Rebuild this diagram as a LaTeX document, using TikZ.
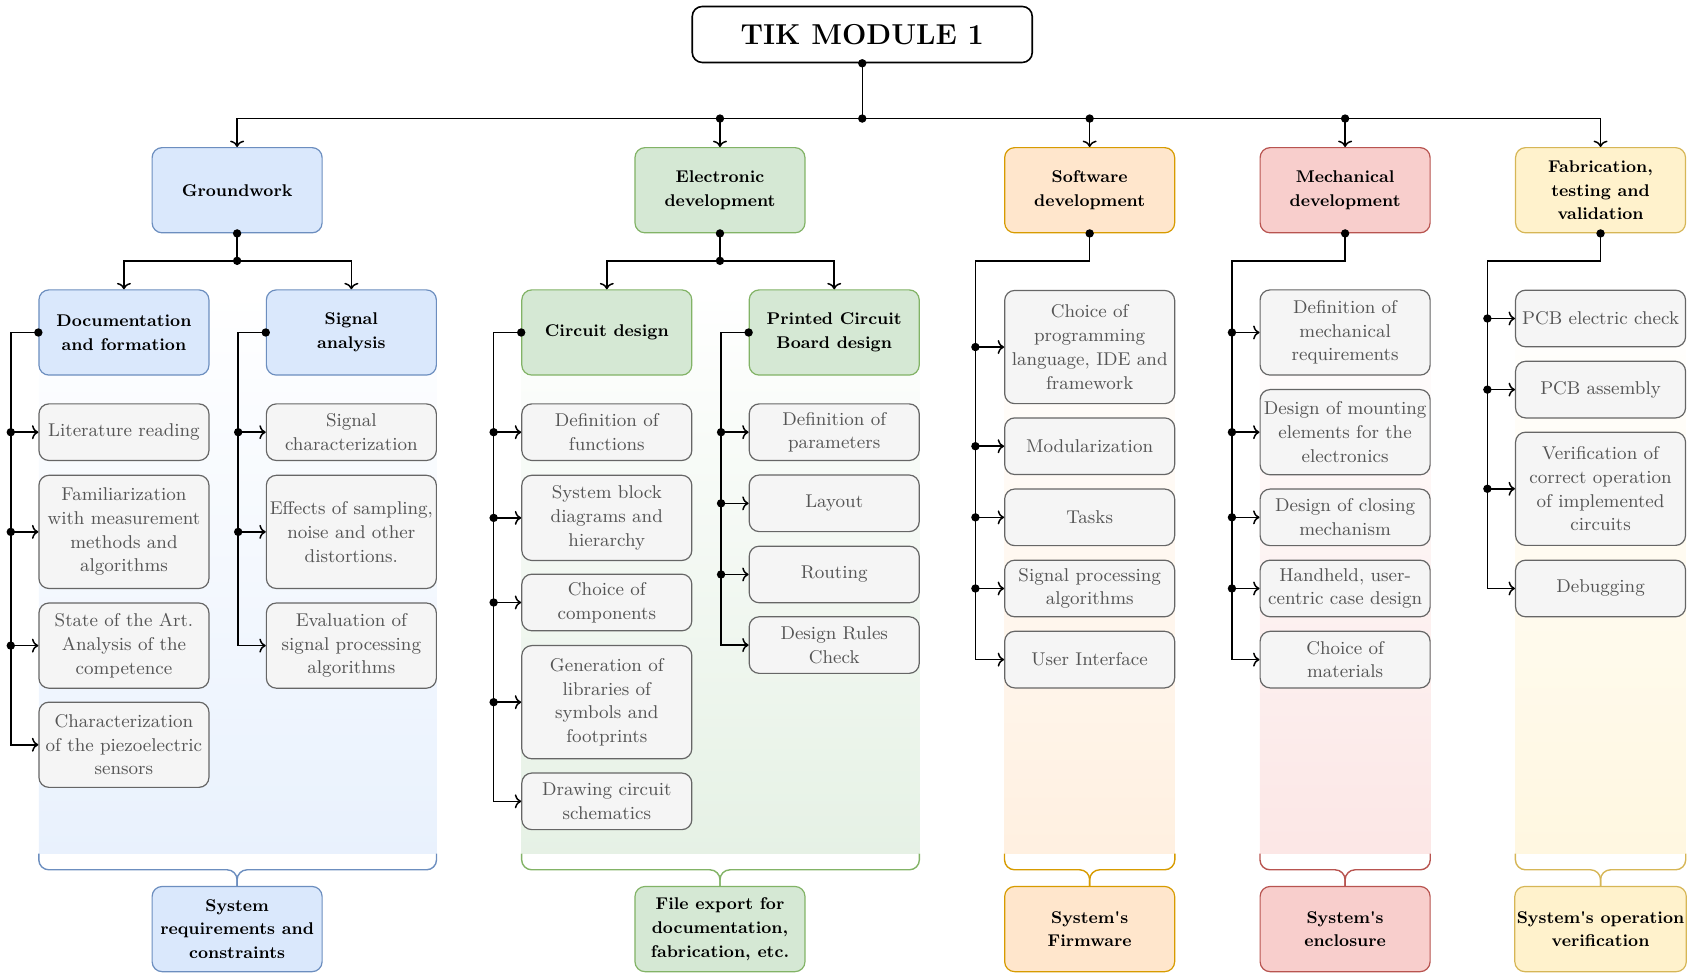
\documentclass[tikz,border=0pt]{standalone}
\usetikzlibrary{arrows.meta,calc}
\definecolor{bluef}{HTML}{DAE8FC}\definecolor{blued}{HTML}{6C8EBF}
\definecolor{greenf}{HTML}{D5E8D4}\definecolor{greend}{HTML}{82B366}
\definecolor{orangef}{HTML}{FFE6CC}\definecolor{oranged}{HTML}{D79B00}
\definecolor{redf}{HTML}{F8CECC}\definecolor{redd}{HTML}{B85450}
\definecolor{yellowf}{HTML}{FFF2CC}\definecolor{yellowd}{HTML}{D6B656}
\definecolor{greyf}{HTML}{F5F5F5}\definecolor{greyd}{HTML}{666666}\definecolor{greyt}{HTML}{555555}
\tikzset{
  lvl/.style={rounded corners=5pt, line width=0.6pt, minimum width=85pt, minimum height=42.6pt, align=center, font=\fontsize{8.5}{11.86}\selectfont\bfseries, inner sep=1pt},
  blue/.style={lvl, draw=blued, fill=bluef},
  green/.style={lvl, draw=greend, fill=greenf},
  orange/.style={lvl, draw=oranged, fill=orangef},
  red/.style={lvl, draw=redd, fill=redf},
  yellow/.style={lvl, draw=yellowd, fill=yellowf},
  item/.style={rounded corners=5pt, draw=greyd, fill=greyf, text=greyt, line width=0.6pt, minimum width=85pt, align=center, inner sep=1pt, font=\fontsize{9.25}{11.86}\selectfont},
  h2/.style={minimum height=28.3pt},
  h3/.style={minimum height=42.6pt},
  h4/.style={minimum height=56.6pt},
  conn/.style={line width=0.75pt},
  arr/.style={conn, -{To[length=3.2pt,width=7pt]}},
  brace/.style={line width=0.7pt, rounded corners=5pt},
}
\newcommand{\jdot}[1]{\fill #1 circle (2.1pt);}
\begin{document}
\begin{tikzpicture}[x=0.5389pt,y=-0.5389pt]
\useasboundingbox (0,0) rectangle (1568,906);
% gradient backgrounds
\shade[top color=white, bottom color=bluef!60!white] (36,269) rectangle (405,792);
\shade[top color=white, bottom color=greenf!60!white] (484,269) rectangle (853,792);
\shade[top color=white, bottom color=orangef!60!white] (932,269) rectangle (1090,792);
\shade[top color=white, bottom color=redf!50!white] (1169,269) rectangle (1327,792);
\shade[top color=white, bottom color=yellowf!60!white] (1406,269) rectangle (1564,792);

% title
\node[draw, rounded corners=5pt, line width=0.8pt, minimum width=170pt, minimum height=28pt, font=\Large\bfseries] (title) at (800,32) {TIK MODULE 1};

% level 1
\node[blue] (gw) at (220,176.5) {Groundwork};
\node[green] (el) at (668,176.5) {Electronic\\development};
\node[orange] (sw) at (1011,176.5) {Software\\development};
\node[red] (me) at (1248,176.5) {Mechanical\\development};
\node[yellow] (fa) at (1485,176.5) {Fabrication,\\testing and\\validation};

% level 2
\node[blue] (doc) at (115,308.5) {Documentation\\and formation};
\node[blue] (sig) at (326,308.5) {Signal\\analysis};
\node[green] (cd) at (563,308.5) {Circuit design};
\node[green] (pcb) at (774,308.5) {Printed Circuit\\Board design};

% items groundwork
\node[item,h2] (g1) at (115,401) {Literature reading};
\node[item,h4] (g2) at (115,493.5) {Familiarization\\with measurement\\methods and\\algorithms};
\node[item,h3] (g3) at (115,599) {State of the Art.\\Analysis of the\\competence};
\node[item,h3] (g4) at (115,691) {Characterization\\of the piezoelectric\\sensors};
\node[item,h2] (s1) at (326,401) {Signal\\characterization};
\node[item,h4] (s2) at (326,493.5) {Effects of sampling,\\noise and other\\distortions.};
\node[item,h3] (s3) at (326,599) {Evaluation of\\signal processing\\algorithms};
% items electronic
\node[item,h2] (c1) at (563,401) {Definition of\\functions};
\node[item,h3] (c2) at (563,480.5) {System block\\diagrams and\\hierarchy};
\node[item,h2] (c3) at (563,559) {Choice of\\components};
\node[item,h4] (c4) at (563,651.5) {Generation of\\libraries of\\symbols and\\footprints};
\node[item,h2] (c5) at (563,743.5) {Drawing circuit\\schematics};
\node[item,h2] (p1) at (774,401) {Definition of\\parameters};
\node[item,h2] (p2) at (774,467) {Layout};
\node[item,h2] (p3) at (774,533) {Routing};
\node[item,h2] (p4) at (774,598.5) {Design Rules\\Check};
% items software
\node[item,h4] (w1) at (1011,322) {Choice of\\programming\\language, IDE and\\framework};
\node[item,h2] (w2) at (1011,414) {Modularization};
\node[item,h2] (w3) at (1011,480) {Tasks};
\node[item,h2] (w4) at (1011,546) {Signal processing\\algorithms};
\node[item,h2] (w5) at (1011,612) {User Interface};
% items mechanical
\node[item,h3] (m1) at (1248,308.5) {Definition of\\mechanical\\requirements};
\node[item,h3] (m2) at (1248,401) {Design of mounting\\elements for the\\electronics};
\node[item,h2] (m3) at (1248,480) {Design of closing\\mechanism};
\node[item,h2] (m4) at (1248,546) {Handheld, user-\\centric case design};
\node[item,h2] (m5) at (1248,612) {Choice of\\materials};
% items fabrication
\node[item,h2] (f1) at (1485,295.5) {PCB electric check};
\node[item,h2] (f2) at (1485,361.5) {PCB assembly};
\node[item,h4] (f3) at (1485,453.5) {Verification of\\correct operation\\of implemented\\circuits};
\node[item,h2] (f4) at (1485,546) {Debugging};

% bottom boxes
\node[blue] (b1) at (220,862) {System\\requirements and\\constraints};
\node[green] (b2) at (668,862) {File export for\\documentation,\\fabrication, etc.};
\node[orange] (b3) at (1011,862) {System\textquotesingle s\\Firmware};
\node[red] (b4) at (1248,862) {System\textquotesingle s\\enclosure};
\node[yellow] (b5) at (1485,862) {System\textquotesingle s operation\\verification};

% braces
\draw[brace, blued] (36,792) -- (36,807) -- (220,807) -- (b1.north);
\draw[brace, blued] (405,792) -- (405,807) -- (220,807) -- (b1.north);
\draw[brace, greend] (484,792) -- (484,807) -- (668,807) -- (b2.north);
\draw[brace, greend] (853,792) -- (853,807) -- (668,807) -- (b2.north);
\draw[brace, oranged] (932,792) -- (932,807) -- (1011,807) -- (b3.north);
\draw[brace, oranged] (1090,792) -- (1090,807) -- (1011,807) -- (b3.north);
\draw[brace, redd] (1169,792) -- (1169,807) -- (1248,807) -- (b4.north);
\draw[brace, redd] (1327,792) -- (1327,807) -- (1248,807) -- (b4.north);
\draw[brace, yellowd] (1406,792) -- (1406,807) -- (1485,807) -- (b5.north);
\draw[brace, yellowd] (1564,792) -- (1564,807) -- (1485,807) -- (b5.north);

% top bus
\coordinate (bus) at (800,110);
\draw[conn] (title.south) -- (bus);
\draw[arr] (bus) -| (gw.north);
\draw[arr] (bus) -| (fa.north);
\draw[arr] (bus -| el.north) -- (el.north);
\draw[arr] (bus -| sw.north) -- (sw.north);
\draw[arr] (bus -| me.north) -- (me.north);
\jdot{(title.south)}\jdot{(bus)}\jdot{(bus -| el.north)}\jdot{(bus -| sw.north)}\jdot{(bus -| me.north)}

% groundwork / electronic split
\coordinate (gwb) at (220,242);
\draw[conn] (gw.south) -- (gwb);
\draw[arr] (gwb) -| (doc.north);
\draw[arr] (gwb) -| (sig.north);
\jdot{(gw.south)}\jdot{(gwb)}
\coordinate (elb) at (668,242);
\draw[conn] (el.south) -- (elb);
\draw[arr] (elb) -| (cd.north);
\draw[arr] (elb) -| (pcb.north);
\jdot{(el.south)}\jdot{(elb)}

% documentation list
\coordinate (dk) at (10,308.5);
\draw[arr] (doc.west) -- (dk) |- (g4.west);
\jdot{(doc.west)}
\foreach \n in {g1,g2,g3}{\draw[arr] (dk |- \n.west) -- (\n.west); \jdot{(dk |- \n.west)}}
% signal list
\coordinate (sk) at (221,308.5);
\draw[arr] (sig.west) -- (sk) |- (s3.west);
\jdot{(sig.west)}
\foreach \n in {s1,s2}{\draw[arr] (sk |- \n.west) -- (\n.west); \jdot{(sk |- \n.west)}}
% circuit list
\coordinate (ck) at (458,308.5);
\draw[arr] (cd.west) -- (ck) |- (c5.west);
\jdot{(cd.west)}
\foreach \n in {c1,c2,c3,c4}{\draw[arr] (ck |- \n.west) -- (\n.west); \jdot{(ck |- \n.west)}}
% pcb list
\coordinate (pk) at (669,308.5);
\draw[arr] (pcb.west) -- (pk) |- (p4.west);
\jdot{(pcb.west)}
\foreach \n in {p1,p2,p3}{\draw[arr] (pk |- \n.west) -- (\n.west); \jdot{(pk |- \n.west)}}
% software list
\coordinate (wk) at (905,242);
\draw[arr] (sw.south) |- (wk) |- (w5.west);
\jdot{(sw.south)}
\foreach \n in {w1,w2,w3,w4}{\draw[arr] (wk |- \n.west) -- (\n.west); \jdot{(wk |- \n.west)}}
% mechanical list
\coordinate (mk) at (1143,242);
\draw[arr] (me.south) |- (mk) |- (m5.west);
\jdot{(me.south)}
\foreach \n in {m1,m2,m3,m4}{\draw[arr] (mk |- \n.west) -- (\n.west); \jdot{(mk |- \n.west)}}
% fabrication list
\coordinate (fk) at (1380,242);
\draw[arr] (fa.south) |- (fk) |- (f4.west);
\jdot{(fa.south)}
\foreach \n in {f1,f2,f3}{\draw[arr] (fk |- \n.west) -- (\n.west); \jdot{(fk |- \n.west)}}
\end{tikzpicture}
\end{document}
